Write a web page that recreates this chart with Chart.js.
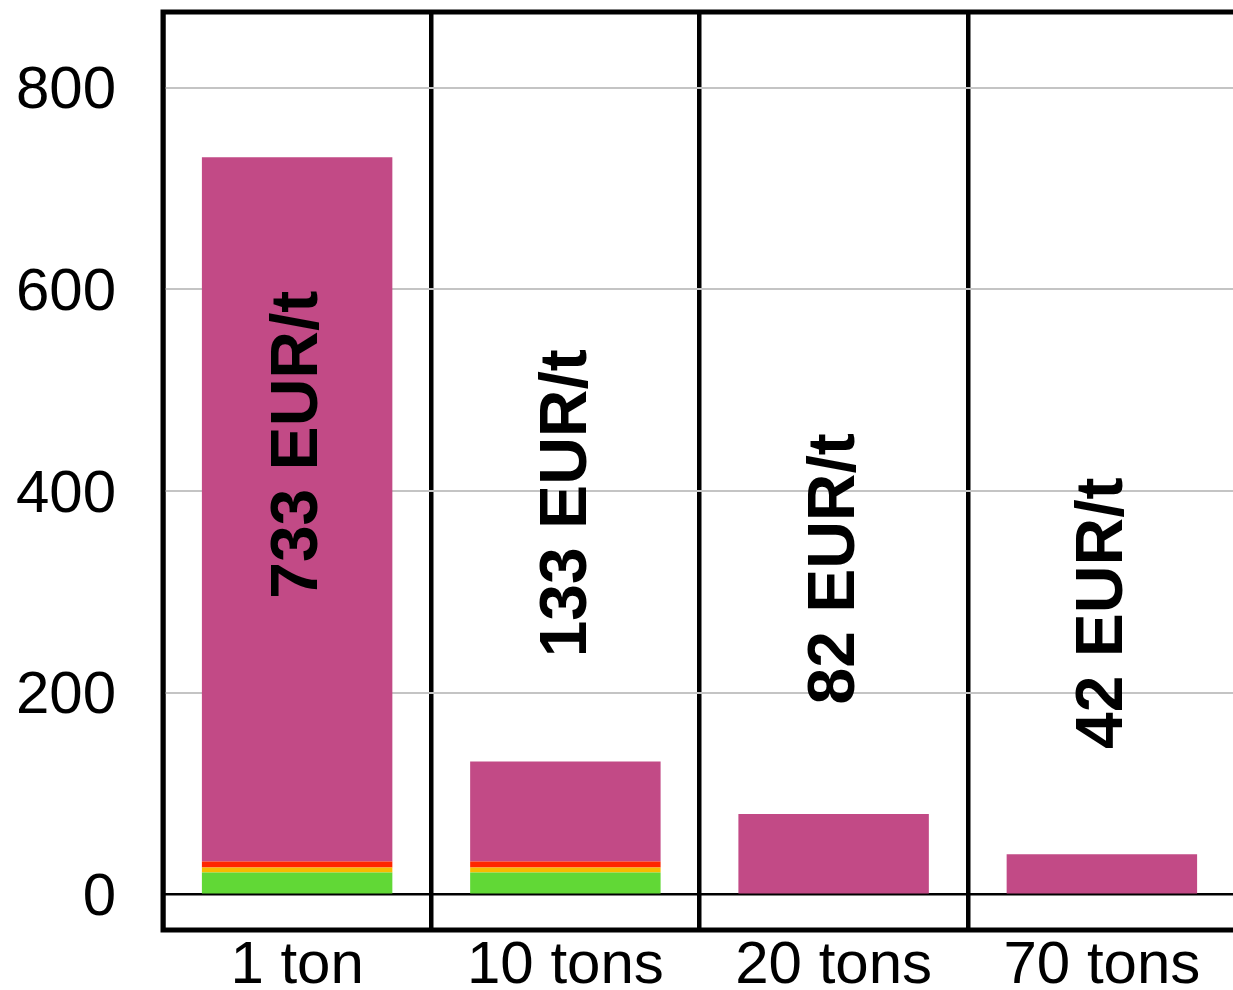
<!DOCTYPE html>
<html>
<head>
<meta charset="utf-8">
<script src="https://cdn.jsdelivr.net/npm/chart.js@4.4.1/dist/chart.umd.min.js"></script>
<style>
html,body{margin:0;padding:0;background:#fff;overflow:hidden;}
#wrap{width:1250px;height:990px;position:relative;}
</style>
</head>
<body>
<div id="wrap"><canvas id="c" width="1250" height="990"></canvas></div>
<script>
const categories = ["1 ton", "10 tons", "20 tons", "70 tons"];
const greenPart = [22, 22, 0, 0];
const yellowPart = [5, 5, 0, 0];
const redPart = [6, 6, 0, 0];
const magentaPart = [698, 99, 80, 40];
const barLabels = ["733 EUR/t", "133 EUR/t", "82 EUR/t", "42 EUR/t"];
const yTicks = [0, 200, 400, 600, 800];

const FONT = "'Liberation Sans', Arial, Helvetica, sans-serif";

const framePlugin = {
  id: 'frame',
  afterDatasetsDraw(chart) {
    const {ctx, chartArea: a} = chart;
    ctx.save();
    ctx.strokeStyle = '#000';
    ctx.lineWidth = 5;
    ctx.strokeRect(a.left, a.top, a.right - a.left, a.bottom - a.top);
    ctx.restore();
  }
};

const labelPlugin = {
  id: 'rotLabels',
  afterDatasetsDraw(chart, args, opts) {
    const {ctx} = chart;
    const xs = chart.scales.x, ys = chart.scales.y;
    ctx.save();
    ctx.fillStyle = '#000';
    ctx.font = 'bold 66px ' + FONT;
    ctx.textAlign = 'center';
    ctx.textBaseline = 'middle';
    barLabels.forEach((t, i) => {
      const x = xs.getPixelForValue(i);
      const y = ys.getPixelForValue(opts.centers[i]);
      ctx.save();
      ctx.translate(x, y);
      ctx.rotate(-Math.PI / 2);
      ctx.fillText(t, 0, 2);
      ctx.restore();
    });
    ctx.restore();
  }
};

new Chart(document.getElementById('c'), {
  type: 'bar',
  data: {
    labels: categories,
    datasets: [
      {label: 'a', data: greenPart, backgroundColor: '#61D836'},
      {label: 'b', data: yellowPart, backgroundColor: '#F8BA00'},
      {label: 'c', data: redPart, backgroundColor: '#FF2600'},
      {label: 'd', data: magentaPart, backgroundColor: '#C24A86'}
    ]
  },
  plugins: [framePlugin, labelPlugin],
  options: {
    responsive: false,
    animation: false,
    layout: {padding: {top: 12, right: 14, left: 0, bottom: 0}},
    datasets: {bar: {barPercentage: 0.71, categoryPercentage: 1, borderWidth: 0}},
    plugins: {
      legend: {display: false},
      tooltip: {enabled: false},
      rotLabels: {centers: [446, 388, 323, 279]}
    },
    scales: {
      x: {
        stacked: true,
        offset: true,
        grid: {offset: true, color: '#000', lineWidth: 4.5, drawTicks: false},
        border: {display: false},
        ticks: {color: '#000', font: {family: FONT, size: 60}, padding: 0, maxRotation: 0},
        afterFit(s) { s.height = 60; s.paddingLeft = 0; s.paddingRight = 0; }
      },
      y: {
        stacked: true,
        min: -35,
        max: 875,
        afterBuildTicks(s) { s.ticks = yTicks.map(v => ({value: v})); },
        grid: {
          drawTicks: false,
          color: c => (c.tick && c.tick.value === 0) ? '#000' : '#c4c4c4',
          lineWidth: c => (c.tick && c.tick.value === 0) ? 2.5 : 2
        },
        border: {display: false},
        ticks: {color: '#000', font: {family: FONT, size: 60}, padding: 47, labelOffset: 4},
        afterFit(s) { s.width = 163; s.paddingTop = 0; s.paddingBottom = 0; }
      }
    }
  }
});
</script>
</body>
</html>
